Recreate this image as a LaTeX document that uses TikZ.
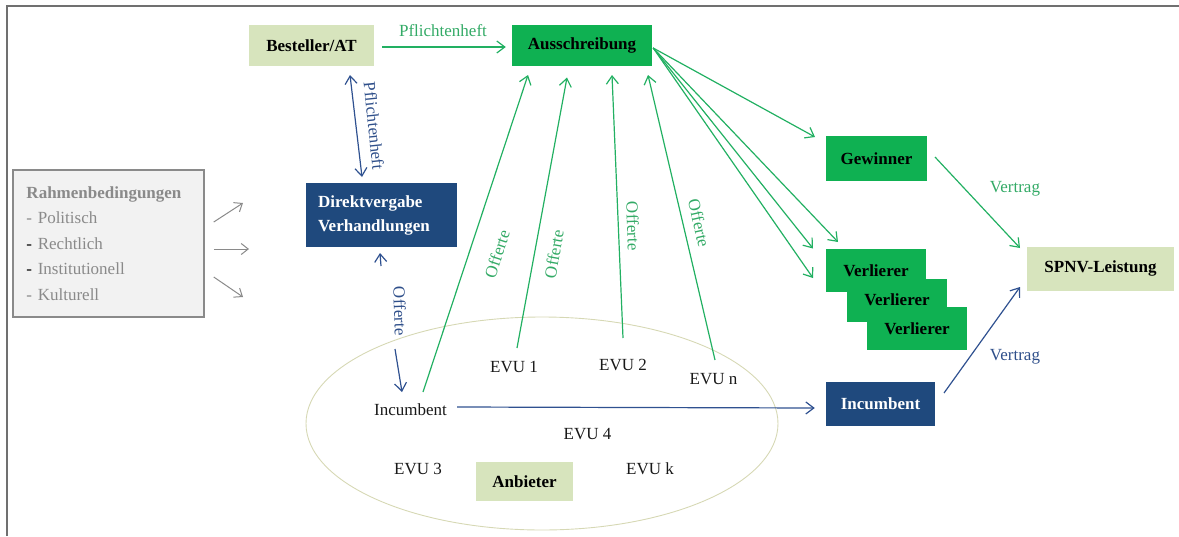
\documentclass[tikz,border=0pt]{standalone}
\usepackage{fontspec}
\setmainfont{Liberation Serif}
\usetikzlibrary{arrows.meta,shapes.geometric,calc}

\definecolor{paleolive}{HTML}{D7E4BD}
\definecolor{boxgreen}{HTML}{0FB152}
\definecolor{boxblue}{HTML}{1F497D}
\definecolor{linegreen}{HTML}{22B062}
\definecolor{labelgreen}{HTML}{33AA66}
\definecolor{lineblue}{HTML}{2F5190}
\definecolor{labelblue}{HTML}{2F4F8A}
\definecolor{framegrey}{HTML}{707070}
\definecolor{softgrey}{HTML}{8A8A8A}
\definecolor{panelgrey}{HTML}{F2F2F2}
\definecolor{ellipseline}{HTML}{D6D8B4}

\begin{document}
\begin{tikzpicture}[x=1pt,y=-1pt,
  font=\fontsize{17}{20}\selectfont,
  box/.style={rectangle, inner sep=0pt, font=\fontsize{17}{20}\selectfont\bfseries},
  palebox/.style={box, fill=paleolive, text=black},
  greenbox/.style={box, fill=boxgreen, text=black},
  bluebox/.style={box, fill=boxblue, text=white},
  plain/.style={inner sep=0pt, text=black!90},
  tipped/.style={-{Straight Barb[length=8pt,width=12pt]}},
  gline/.style={tipped, draw=linegreen, line width=1.2pt},
  bline/.style={tipped, draw=lineblue, line width=1.2pt},
  gyline/.style={-{Straight Barb[length=7pt,width=11pt]}, draw=softgrey, line width=1pt},
  glabel/.style={inner sep=1pt, text=labelgreen},
  blabel/.style={inner sep=1pt, text=labelblue}]

\useasboundingbox (0,0) rectangle (1179,536);

% outer frame (left and top edges)
\draw[framegrey, line width=1.8pt] (7,536) -- (7,6) -- (1179,6);

% market of bidders
\node[draw=ellipseline, line width=0.9pt, ellipse, minimum width=472pt,
      minimum height=213pt, inner sep=0pt] (market) at (542,423.5) {};

% boxes
\node[palebox, minimum width=125pt, minimum height=41pt] (bes) at (311.5,45.5) {Besteller/AT};
\node[greenbox, minimum width=140pt, minimum height=41pt] (aus) at (582,45.5) {Ausschreibung};
\node[bluebox, minimum width=151pt, minimum height=64pt, align=left,
      text width=127pt, inner xsep=12pt, font=\fontsize{17}{24}\selectfont\bfseries]
      (dir) at (381.5,215) {Direktvergabe\\Verhandlungen};
\node[draw=softgrey, line width=1.5pt, fill=panelgrey, minimum width=191pt,
      minimum height=147pt, inner xsep=13pt, text width=164pt, align=left,
      text=softgrey, font=\fontsize{17}{25.5}\selectfont]
      (rahmen) at (108.5,243.5)
      {\textbf{Rahmenbedingungen}\\- Politisch\\{\color{black}-} Rechtlich\\{\color{black}-} Institutionell\\- Kulturell};
\node[greenbox, minimum width=101pt, minimum height=45pt] (gew) at (876.5,158.5) {Gewinner};
\node[greenbox, minimum width=100pt, minimum height=43pt] (ver1) at (876,270.5) {Verlierer};
\node[greenbox, minimum width=100pt, minimum height=43pt] (ver2) at (897,300) {Verlierer};
\node[greenbox, minimum width=100pt, minimum height=43pt] (ver3) at (917,328.5) {Verlierer};
\node[palebox, minimum width=147pt, minimum height=44pt] (spnv) at (1100.5,268.5) {SPNV-Leistung};
\node[bluebox, minimum width=109pt, minimum height=44pt] (incb) at (880.5,404) {Incumbent};
\node[palebox, minimum width=97pt, minimum height=39pt] (anb) at (524.5,481.5) {Anbieter};

% bidders inside the market
\node[plain] (inc)  at (410.5,410) {Incumbent};
\node[plain] (evu1) at (514,367)   {EVU 1};
\node[plain] (evu2) at (623,364.5) {EVU 2};
\node[plain] (evun) at (713.5,379) {EVU n};
\node[plain] (evu4) at (587.5,434) {EVU 4};
\node[plain] (evu3) at (418,469)   {EVU 3};
\node[plain] (evuk) at (650,469)   {EVU k};

% influence of the framework conditions
\coordinate (r1) at (243,203);
\coordinate (r2) at (249,249);
\coordinate (r3) at (243,297);
\draw[gyline] ($(rahmen.east)+(9,-21.5)$) -- (r1);
\draw[gyline] ($(rahmen.east)+(9,5.5)$) -- (r2);
\draw[gyline] ($(rahmen.east)+(9,33.5)$) -- (r3);

% specification to the tender
\draw[gline] ($(bes.east)+(8,1.5)$) -- ($(aus.west)+(-6,1.5)$);
\node[glabel] (lp1) at (443,31) {Pflichtenheft};

% specification for direct award
\draw[bline, {Straight Barb[length=8pt,width=12pt]}-{Straight Barb[length=8pt,width=12pt]}]
  ($(bes.center)+(38.5,29.5)$) -- ($(dir.center)+(-19.5,-38)$);
\node[blabel, rotate=-84] (lp2) at (374,126) {Pflichtenheft};

% offer for direct award: the line is broken around its label
\draw[bline] ($(dir.center)+(-0.5,51)$) -- ($(dir.center)+(-1.5,38)$);
\draw[bline] ($(inc.center)+(-15.5,-61)$) -- ($(inc.center)+(-8.5,-18)$);
\node[blabel, rotate=-88] (lo0) at (400,311) {Offerte};

% offers to the tender
\draw[gline] ($(inc.center)+(12.5,-18)$) -- ($(aus.center)+(-54,29.5)$);
\draw[gline] ($(evu1.center)+(3,-19)$)   -- ($(aus.center)+(-15,32)$);
\draw[gline] ($(evu2.center)+(0,-26.5)$) -- ($(aus.center)+(30,29.5)$);
\draw[gline] ($(evun.center)+(1.5,-19)$) -- ($(aus.center)+(66,29.5)$);
\node[glabel, rotate=72]  (lo1) at (497,254) {Offerte};
\node[glabel, rotate=80]  (lo2) at (554,254) {Offerte};
\node[glabel, rotate=-88] (lo3) at (633,226) {Offerte};
\node[glabel, rotate=-77] (lo4) at (699,223) {Offerte};

% results of the tender
\coordinate (ausout) at ($(aus.east)+(1,2.5)$);
\draw[gline] (ausout) -- ($(gew.center)+(-61.5,-21.5)$);
\draw[gline] (ausout) -- ($(ver1.center)+(-38,-28.5)$);
\draw[gline] (ausout) -- ($(ver1.center)+(-63,-22)$);
\draw[gline] (ausout) -- ($(ver1.center)+(-63,7.5)$);

% incumbent keeps the service
\draw[bline] ($(inc.east)+(10,-3)$) -- ($(incb.west)+(-11,4)$);

% contracts
\draw[gline] ($(gew.center)+(58.5,-1.5)$) -- ($(spnv.center)+(-80.5,-20.5)$);
\node[glabel] (lv1) at (1015,189) {Vertrag};
\draw[bline] ($(incb.center)+(63.5,-11)$) -- ($(spnv.center)+(-80.5,18.5)$);
\node[blabel] (lv2) at (1015,357) {Vertrag};

\end{tikzpicture}
\end{document}
